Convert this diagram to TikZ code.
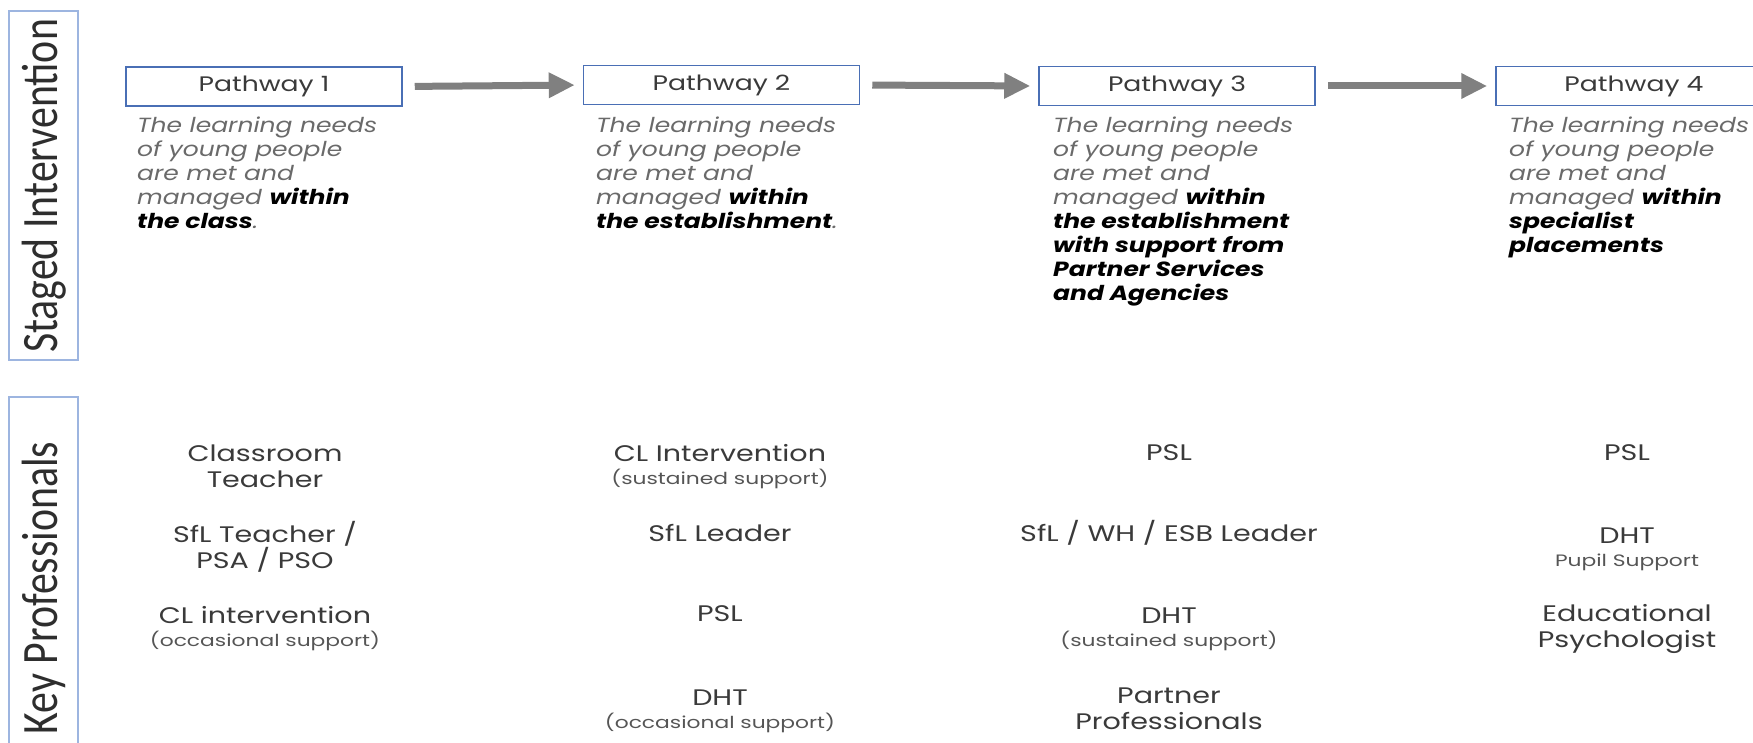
\documentclass[tikz,border=0pt]{standalone}
\usepackage{fontspec}
\setmainfont{Poppins}
\newfontfamily\wideA{Poppins}[FakeStretch=1.22]
\newfontfamily\wideB{Poppins}[FakeStretch=1.27]
\newfontfamily\wideC{Poppins}[FakeStretch=1.32]
\newfontfamily\sidefont{Carlito}[FakeStretch=0.82]
\usetikzlibrary{arrows.meta}
\definecolor{boxblue}{HTML}{4A6FB5}
\definecolor{sideblue}{HTML}{9DB5E0}
\definecolor{arrowgray}{HTML}{808080}
\definecolor{desc}{HTML}{6A6A6A}
\definecolor{prof}{HTML}{3A3A3A}
\definecolor{subgray}{HTML}{555555}
\tikzset{
  x=1pt, y=-1pt,
  pathbox/.style={draw=boxblue, line width=1.5pt, minimum width=276pt, minimum height=39pt, inner sep=0pt, font=\wideB\fontsize{21}{24}\selectfont, text=prof},
  sidebox/.style={draw=sideblue, line width=1.4pt},
  sidelabel/.style={rotate=90, font=\sidefont\fontsize{51}{56}\selectfont, text=prof!80!black, inner sep=0pt},
  flow/.style={draw=arrowgray, line width=7pt, -{Triangle[length=26pt,width=24pt]}, shorten <=12pt, shorten >=8pt},
  desctext/.style={anchor=north west, align=left, inner sep=0pt, text=desc, font=\wideA\fontsize{20.5}{24}\selectfont\itshape},
  proftext/.style={align=center, inner sep=0pt, text=prof, font=\wideB\fontsize{22.5}{26}\selectfont},
}
\newcommand{\subnote}[1]{{\wideC\fontsize{16.5}{18}\selectfont\color{subgray}#1}}
\newcommand{\hl}[1]{{\bfseries\color{black}#1}}
\begin{document}
\begin{tikzpicture}
\useasboundingbox (0,0) rectangle (1753,743);
% side labels
\draw[sidebox] (9,11) rectangle (78,360);
\node[sidelabel] (si) at (44,186) {Staged Intervention};
\draw[sidebox] (9,397) rectangle (78,760);
\node[sidelabel] (kp) at (44,588) {Key Professionals};
% pathway boxes
\node[pathbox] (p1) at (264,86.5) {Pathway 1};
\node[pathbox] (p2) at (721.5,85) {Pathway 2};
\node[pathbox] (p3) at (1177,86) {Pathway 3};
\node[pathbox] (p4) at (1634,86) {Pathway 4};
\draw[flow] (p1.east) -- (p2.west);
\draw[flow] (p2.east) -- (p3.west);
\draw[flow] (p3.east) -- (p4.west);
% descriptions
\node[desctext] (d1) at (137,117) {The learning needs\\of young people\\are met and\\managed \hl{within}\\\hl{the class}.};
\node[desctext] (d2) at (596,117) {The learning needs\\of young people\\are met and\\managed \hl{within}\\\hl{the establishment}.};
\node[desctext] (d3) at (1053,117) {The learning needs\\of young people\\are met and\\managed \hl{within}\\\hl{the establishment}\\\hl{with support from}\\\hl{Partner Services}\\\hl{and Agencies}};
\node[desctext] (d4) at (1509,117) {The learning needs\\of young people\\are met and\\managed \hl{within}\\\hl{specialist}\\\hl{placements}};
% professionals column 1
\node[proftext] (c1a) at (265,466) {Classroom\\Teacher};
\node[proftext] (c1b) at (265,547) {SfL Teacher /\\PSA / PSO};
\node[proftext] (c1c) at (265,629) {CL intervention\\[-3pt]\subnote{(occasional support)}};
% column 2
\node[proftext] (c2a) at (720,467) {CL Intervention\\[-3pt]\subnote{(sustained support)}};
\node[proftext] (c2b) at (720,533) {SfL Leader};
\node[proftext] (c2c) at (720,614) {PSL};
\node[proftext] (c2d) at (720,711) {DHT\\[-3pt]\subnote{(occasional support)}};
% column 3
\node[proftext] (c3a) at (1169,453) {PSL};
\node[proftext] (c3b) at (1169,533) {SfL / WH / ESB Leader};
\node[proftext] (c3c) at (1169,629) {DHT\\[-3pt]\subnote{(sustained support)}};
\node[proftext] (c3d) at (1169,709) {Partner\\Professionals};
% column 4
\node[proftext] (c4a) at (1627,453) {PSL};
\node[proftext] (c4b) at (1627,549) {DHT\\[-3pt]\subnote{Pupil Support}};
\node[proftext] (c4c) at (1627,629) {Educational\\Psychologist};
\end{tikzpicture}
\end{document}
